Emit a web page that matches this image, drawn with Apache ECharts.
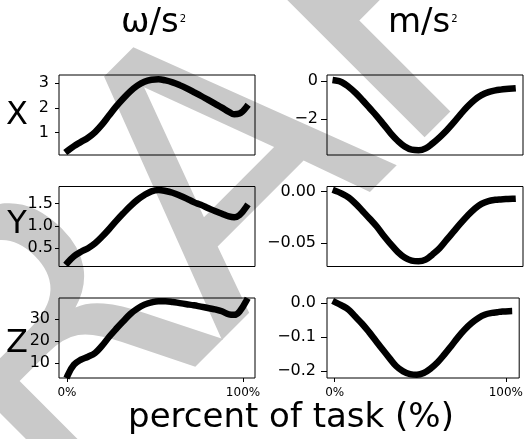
<!DOCTYPE html>
<html>
<head>
<meta charset="utf-8">
<script src="https://cdn.jsdelivr.net/npm/echarts@6/dist/echarts.min.js"></script>
<style>
  html, body { margin: 0; padding: 0; background: #fff; }
  #chart { width: 526px; height: 439px; }
</style>
</head>
<body>
<div id="chart"></div>
<script>
// percent of task (x positions of the samples)
const pct = [0.5, 4, 8, 12, 16, 20, 24, 28, 32, 36, 40, 44, 48, 52, 56, 60, 64, 68, 72, 76, 80, 84, 88, 92, 95, 98, 101.8];

// angular (ω/s²)
const omegaX = [0.27, 0.45, 0.62, 0.79, 1.02, 1.33, 1.70, 2.06, 2.38, 2.67, 2.90, 3.06, 3.14, 3.16, 3.11, 3.03, 2.92, 2.79, 2.64, 2.49, 2.33, 2.17, 2.01, 1.84, 1.74, 1.77, 2.02];
const omegaY = [0.18, 0.32, 0.42, 0.50, 0.61, 0.76, 0.93, 1.11, 1.28, 1.44, 1.58, 1.69, 1.77, 1.80, 1.78, 1.74, 1.68, 1.61, 1.53, 1.47, 1.40, 1.33, 1.27, 1.21, 1.19, 1.24, 1.42];
const omegaZ = [4.6, 9.3, 11.6, 12.9, 14.6, 17.9, 21.9, 25.5, 28.9, 32.2, 34.6, 36.4, 37.4, 37.9, 37.9, 37.6, 37.1, 36.6, 36.1, 35.5, 34.9, 34.3, 33.4, 32.0, 31.8, 33.3, 38.0];

// linear (m/s²)
const accX = [0.02, -0.07, -0.32, -0.64, -1.03, -1.44, -1.85, -2.30, -2.76, -3.15, -3.45, -3.62, -3.65, -3.55, -3.29, -2.97, -2.61, -2.20, -1.76, -1.35, -1.00, -0.75, -0.59, -0.50, -0.46, -0.43, -0.40];
const accY = [0.0005, -0.002, -0.006, -0.012, -0.0192, -0.0265, -0.034, -0.043, -0.051, -0.0585, -0.064, -0.067, -0.0676, -0.066, -0.061, -0.055, -0.047, -0.039, -0.031, -0.0235, -0.017, -0.012, -0.0093, -0.0081, -0.0077, -0.0074, -0.0071];
const accZ = [0.002, -0.007, -0.019, -0.040, -0.061, -0.085, -0.111, -0.137, -0.162, -0.186, -0.201, -0.209, -0.211, -0.206, -0.193, -0.175, -0.152, -0.127, -0.101, -0.078, -0.059, -0.044, -0.034, -0.029, -0.027, -0.025, -0.024];

// tick labels
const omegaXTicks = [1, 2, 3];
const omegaYTicks = [0.5, 1.0, 1.5];
const omegaZTicks = [10, 20, 30];
const accXTicks = [-2, 0];
const accYTicks = [-0.05, 0];
const accZTicks = [-0.2, -0.1, 0];
const pctTicks = [0, 100];

const rowNames = ['X', 'Y', 'Z'];
const colTitles = ['ω/s', 'm/s'];

const FONT = 'DejaVu Sans';

var myChart = echarts.init(document.getElementById('chart'));

// [values, ticks, decimals, min, max, labelMargin]
const panels = [
    [omegaX, omegaXTicks, 0, 0.09, 3.33, 10],
    [accX, accXTicks, 0, -3.9, 0.31, 9],
    [omegaY, omegaYTicks, 1, 0.09, 1.88, 6],
    [accY, accYTicks, 2, -0.0727, 0.0048, 11],
    [omegaZ, omegaZTicks, 0, 3.3, 39.4, 9],
    [accZ, accZTicks, 1, -0.2206, 0.0147, 11]
];
const tops = [75, 186.5, 298];

const grid = [], xAxis = [], yAxis = [], series = [];
panels.forEach((p, i) => {
    const row = Math.floor(i / 2), col = i % 2;
    const bottomRow = row === 2;
    grid.push({
        left: col === 0 ? 59 : 327, top: tops[row], width: 196, height: 80,
        show: true, borderColor: '#000', borderWidth: 1, backgroundColor: 'transparent'
    });
    xAxis.push({
        type: 'value', gridIndex: i, position: 'bottom',
        min: -4.5, max: col === 0 ? 106.8 : 107.8,
        axisLine: {show: false, onZero: false},
        splitLine: {show: false},
        axisTick: {show: bottomRow, inside: false, length: 4, customValues: pctTicks, lineStyle: {color: '#000'}},
        axisLabel: {
            show: bottomRow, customValues: pctTicks, margin: 9,
            fontFamily: FONT, fontSize: 12, color: '#000',
            formatter: v => v + '%'
        }
    });
    const dec = p[2];
    yAxis.push({
        type: 'value', gridIndex: i, position: 'left',
        min: p[3], max: p[4],
        axisLine: {show: false, onZero: false},
        splitLine: {show: false},
        axisTick: {show: true, inside: false, length: col === 0 ? 4 : 6, customValues: p[1], lineStyle: {color: '#000'}},
        axisLabel: {
            customValues: p[1], margin: p[5],
            fontFamily: FONT, fontSize: 16, color: '#000',
            formatter: v => v.toFixed(dec).replace('-', '\u2212')
        }
    });
    series.push({
        type: 'line', xAxisIndex: i, yAxisIndex: i,
        data: pct.map((x, k) => [x, p[0][k]]),
        smooth: 0.4, symbol: 'none',
        lineStyle: {color: '#000', width: 6.5, cap: 'square'},
        z: 3
    });
});

const graphic = [
    {
        type: 'text', z: -10, x: 208, y: 218, rotation: Math.PI / 4,
        style: {
            text: 'DRAFT', fontFamily: FONT, fontSize: 370, fill: '#c9c9c9',
            align: 'center', verticalAlign: 'middle'
        }
    },
    {
        type: 'text', x: 291, y: 418,
        style: {text: 'percent of task (%)', fontFamily: FONT, fontSize: 34, fill: '#000', align: 'center', verticalAlign: 'middle'}
    }
];

// column titles: base text plus a small raised "2"
const ctx = document.createElement('canvas').getContext('2d');
ctx.font = '34px "DejaVu Sans"';
const titleLeft = [121, 388];
colTitles.forEach((t, c) => {
    const w = ctx.measureText(t).width;
    graphic.push({
        type: 'text', x: titleLeft[c], y: 23,
        style: {text: t, fontFamily: FONT, fontSize: 34, fill: '#000', align: 'left', verticalAlign: 'middle'}
    });
    graphic.push({
        type: 'text', x: titleLeft[c] + w + 1, y: 19,
        style: {text: '2', fontFamily: FONT, fontSize: 10, fill: '#000', align: 'left', verticalAlign: 'middle'}
    });
});

const rowLabelY = [116, 225, 344];
rowNames.forEach((n, r) => {
    graphic.push({
        type: 'text', x: 17, y: rowLabelY[r],
        style: {text: n, fontFamily: FONT, fontSize: 32, fill: '#000', align: 'center', verticalAlign: 'middle'}
    });
});

myChart.setOption({
    backgroundColor: '#fff',
    animation: false,
    grid: grid,
    xAxis: xAxis,
    yAxis: yAxis,
    series: series,
    graphic: graphic
});
</script>
</body>
</html>
